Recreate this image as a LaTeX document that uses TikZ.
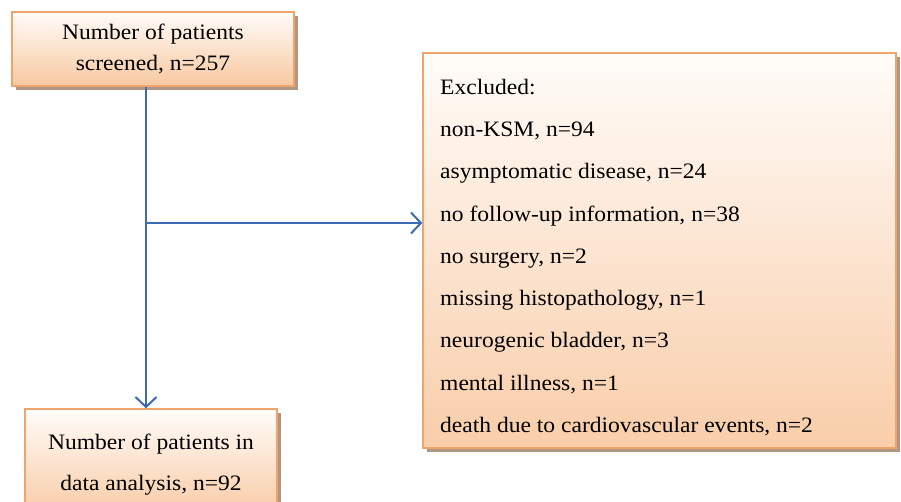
\documentclass[tikz,border=0pt]{standalone}
\usepackage{fontspec}
\setmainfont[FakeStretch=1.07]{Liberation Serif}
\usetikzlibrary{arrows.meta,shadows}
\definecolor{boxline}{HTML}{F0A46A}
\definecolor{peach}{HTML}{F8C8A0}
\definecolor{paleend}{HTML}{FFFCF9}
\definecolor{shadowc}{HTML}{A88C78}
\definecolor{flowblue}{HTML}{3B6BB3}
\tikzset{
  flowbox/.style={draw=boxline, line width=1.3pt, top color=paleend, bottom color=peach,
    drop shadow={shadow xshift=3.5pt, shadow yshift=-3.5pt, fill=shadowc, opacity=0.9},
    align=center, inner sep=0pt, font=\fontsize{22}{31}\selectfont},
  flowarrow/.style={draw=flowblue, line width=2pt, -{Straight Barb[length=10pt,width=21pt,line width=2pt]}},
}
\begin{document}
\begin{tikzpicture}[x=1pt,y=-1pt]
\path[use as bounding box, clip] (0,0) rectangle (901,501);
\fill[white] (0,0) rectangle (901,501);
% boxes
\node[flowbox, minimum width=282pt, minimum height=74pt] (screen) at (153,49)
  {Number of patients\\screened, n=257};
\node[flowbox, minimum width=252pt, minimum height=112pt, font=\fontsize{22}{41}\selectfont] (analysis) at (151,465)
  {Number of patients in\\data analysis, n=92};
\node[flowbox, minimum width=473pt, minimum height=395pt, bottom color=peach!90] (excl) at (659.5,250.5) {};
\node[anchor=north west, align=left, inner sep=0pt, font=\fontsize{22}{42.25}\selectfont] (excllist) at (440,79)
  {Excluded:\\
   non-KSM, n=94\\
   asymptomatic disease, n=24\\
   no follow-up information, n=38\\
   no surgery, n=2\\
   missing histopathology, n=1\\
   neurogenic bladder, n=3\\
   mental illness, n=1\\
   death due to cardiovascular events, n=2};
% connectors
\coordinate (split) at (146,223);
\draw[flowarrow] (split |- screen.south) -- (split |- analysis.north);
\draw[flowarrow] (split) -- (split -| excl.west);
\end{tikzpicture}
\end{document}
